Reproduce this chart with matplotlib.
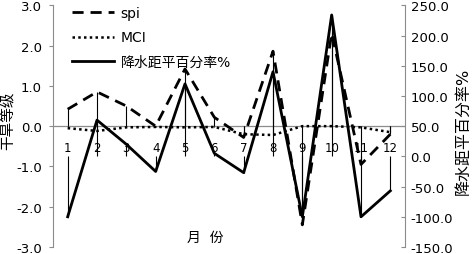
import matplotlib
matplotlib.use("Agg")
import matplotlib.pyplot as plt
from matplotlib.ticker import FormatStrFormatter

plt.rcParams['font.family'] = ['DejaVu Sans', 'Noto Sans CJK SC']

# data
months = list(range(1, 13))
month_labels = [str(m) for m in months]
spi = [0.42, 0.85, 0.5, 0.0, 1.42, 0.22, -0.28, 1.86, -2.45, 2.3, -0.95, -0.2]
mci = [-0.05, -0.12, -0.03, -0.02, -0.03, -0.02, -0.2, -0.22, 0.0, 0.0, -0.03, -0.15]
precip = [-100, 60, 20, -25, 120, 5, -27, 140, -100, 234, -100, -57]

W, H = 472, 255
GRAY = "#8c8c8c"

fig = plt.figure(figsize=(W / 100, H / 100), dpi=100)
ax = fig.add_axes([53 / W, 1 - 248 / H, (405 - 53) / W, (248 - 6.3) / H])
ax2 = ax.twinx()

# drop lines to each axis' zero
ax.vlines(months, 0, spi, color="black", lw=0.8)
ax.vlines(months, 0, mci, color="black", lw=0.8)
ax2.vlines(months, 0, precip, color="black", lw=0.8)

ax.axhline(0, color=GRAY, lw=0.9, zorder=1)

l_spi, = ax.plot(months, spi, color="black", lw=2.0, dashes=(4, 2.5), label="spi")
l_mci, = ax.plot(months, mci, color="black", lw=1.8, linestyle=(0, (1, 1.3)), label="MCI")
l_pre, = ax2.plot(months, precip, color="black", lw=2.0, label="降水距平百分率%")

ax.set_xlim(0.5, 12.5)
ax.set_ylim(-3, 3)
ax.set_yticks([-3, -2, -1, 0, 1, 2, 3])
ax.yaxis.set_major_formatter(FormatStrFormatter("%.1f"))
ax2.set_ylim(-150, 250)
ax2.set_yticks(range(-150, 251, 50))
ax2.yaxis.set_major_formatter(FormatStrFormatter("%.1f"))

ax.set_xticks([])
for m, lab in zip(months, month_labels):
    ax.text(m, -0.53, lab, ha="center", va="center", fontsize=8.5)

for a in (ax, ax2):
    for s in ("top", "bottom"):
        a.spines[s].set_visible(False)
ax.spines["right"].set_visible(False)
ax2.spines["left"].set_visible(False)
ax.spines["left"].set_color(GRAY)
ax2.spines["right"].set_color(GRAY)
ax.tick_params(axis="y", direction="out", length=3, color=GRAY, labelsize=9.5, pad=5)
ax2.tick_params(axis="y", direction="in", length=3, color=GRAY, labelsize=9.5, pad=4)

fig.text(8 / W, 1 - 121 / H, "干旱等级", rotation=90, ha="center", va="center", fontsize=10.5)
fig.text(463 / W, 1 - 131 / H, "降水距平百分率%", rotation=90, ha="center", va="center", fontsize=11.5)
fig.text(205 / W, 1 - 238 / H, "月  份", ha="center", va="center", fontsize=10)

ax2.legend(handles=[l_spi, l_mci, l_pre], loc="upper left",
           bbox_to_anchor=(72 / W, 1 - 7 / H), bbox_transform=fig.transFigure,
           frameon=False, fontsize=10, handlelength=3.0, handletextpad=0.5,
           labelspacing=0.75, borderpad=0, borderaxespad=0)

fig.savefig("out.png", dpi=100)
